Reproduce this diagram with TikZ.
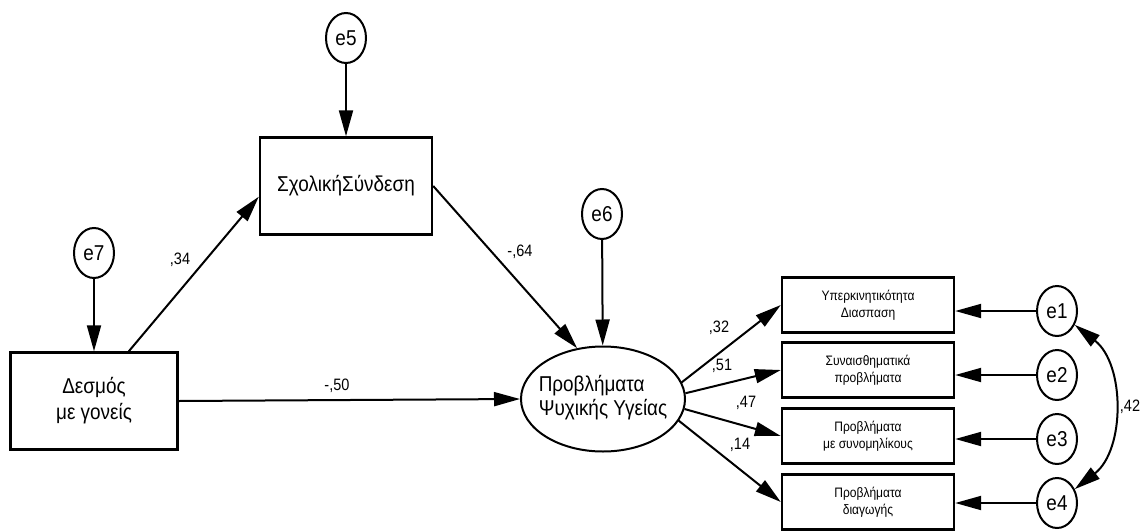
\documentclass[tikz,border=0pt]{standalone}
\usepackage{fontspec}
\setmainfont{Liberation Sans}[FakeStretch=0.88]
\usetikzlibrary{arrows.meta, positioning, shapes.geometric}

\begin{document}
\begin{tikzpicture}[
    x=1pt, y=-1pt,
    var node/.style={rectangle, draw, line width=2.4pt, minimum width=172pt, minimum height=97pt, align=center, font=\fontsize{21.5}{26}\selectfont},
    ind node/.style={rectangle, draw, line width=2.4pt, minimum width=172pt, minimum height=55pt, inner sep=0pt, align=center, font=\fontsize{13.7}{17}\selectfont},
    err node/.style={ellipse, draw, line width=2pt, minimum width=40pt, minimum height=50pt, inner sep=0pt, font=\fontsize{21.5}{26}\selectfont},
    lat node/.style={ellipse, draw, line width=2pt, minimum width=164pt, minimum height=105pt, inner sep=0pt, font=\fontsize{21.5}{24}\selectfont},
    coef/.style={font=\fontsize{16.5}{20}\selectfont, inner sep=0pt},
    >={Triangle[length=26pt, width=14pt]},
    line width=2pt
]
    \useasboundingbox (0,0) rectangle (1142,530);

    % Error terms of the structural part
    \node[err node] (e5) at (346, 38) {e5};
    \node[err node] (e7) at (94, 253) {e7};
    \node[err node] (e6) at (602, 214) {e6};

    % Observed and latent variables
    \node[var node] (school) at (346, 186) {ΣχολικήΣύνδεση};
    \node[var node, minimum width=167pt] (bond) at (94, 401) {Δεσμός\\με γονείς};
    \node[lat node] (mh) at (603, 399) {\makebox[110pt]{\begin{tabular}{@{}l@{}}Προβλήματα\\Ψυχικής Υγείας\end{tabular}}};

    % Indicators with their errors
    \node[ind node] (hyper) at (868, 305) {Υπερκινητικότητα\\Διασπαση};
    \node[ind node] (emot) at (868, 370) {Συναισθηματικά\\προβλήματα};
    \node[ind node] (peer) at (868, 436) {Προβλήματα\\με συνομηλίκους};
    \node[ind node] (cond) at (868, 502) {Προβλήματα\\διαγωγής};
    \node[err node] (e1) at (1057, 311) {e1};
    \node[err node] (e2) at (1057, 375) {e2};
    \node[err node] (e3) at (1057, 439) {e3};
    \node[err node] (e4) at (1057, 503) {e4};

    % Paths
    \draw[->] (e5) -- (school);
    \draw[->] (e7) -- (bond);
    \draw[->] (e6) -- (mh);
    \draw[->] (bond.55) -- (school.187);
    \draw[->] (school.east) -- (mh.117);
    \draw[->] (bond.east) -- (mh.west);
    \draw[->] (mh.12) -- (hyper.west);
    \draw[->] (mh.4) -- (emot.west);
    \draw[->] (mh.-7) -- (peer.west);
    \draw[->] (mh.-16) -- (cond.west);
    \draw[->] (e1) -- (e1 -| hyper.east);
    \draw[->] (e2) -- (e2 -| emot.east);
    \draw[->] (e3) -- (e3 -| peer.east);
    \draw[->] (e4) -- (e4 -| cond.east);
    \draw[<->] (e1) to[bend left=52] (e4);

    % Coefficients
    \node[coef] (c34) at (180, 260) {,34};
    \node[coef] (c64) at (520, 252) {-,64};
    \node[coef] (c50) at (337, 386) {-,50};
    \node[coef] (c32) at (719, 328) {,32};
    \node[coef] (c51) at (722, 366) {,51};
    \node[coef] (c47) at (746, 403) {,47};
    \node[coef] (c14) at (740, 445) {,14};
    \node[coef] (c42) at (1130, 407) {,42};
\end{tikzpicture}
\end{document}
